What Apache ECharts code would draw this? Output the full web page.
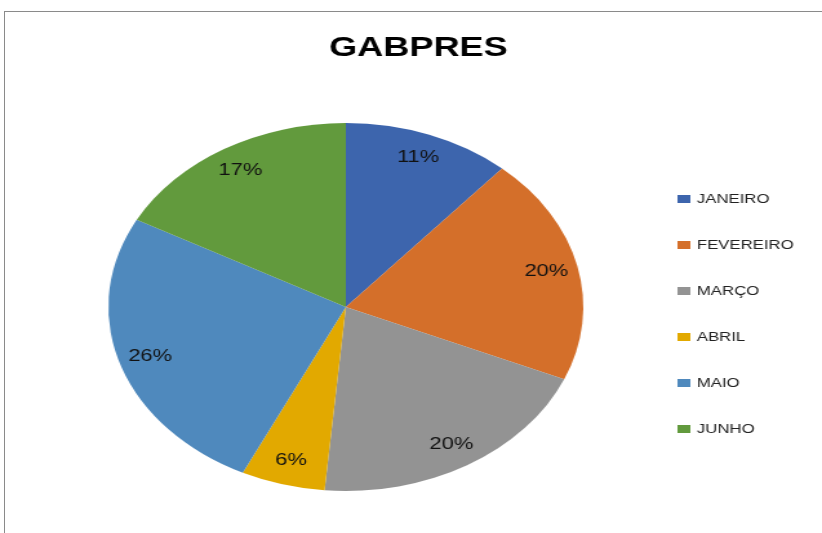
<!DOCTYPE html>
<html>
<head>
<meta charset="utf-8">
<script src="https://cdn.jsdelivr.net/npm/echarts@6/dist/echarts.min.js"></script>
<style>
  html, body { margin: 0; padding: 0; background: #fff; overflow: hidden; }
  #frame {
    position: absolute; left: 4px; top: 11px; width: 818px; height: 522px;
    border-left: 1px solid #8a8a8a; border-top: 1px solid #8a8a8a;
  }
  /* o gráfico original foi esticado na horizontal */
  #chart {
    position: absolute; left: 0; top: 0; width: 637px; height: 533px;
    transform: scaleX(1.2904); transform-origin: 0 0;
  }
</style>
</head>
<body>
<div id="frame"></div>
<div id="chart"></div>
<script>
const meses = ["JANEIRO", "FEVEREIRO", "MARÇO", "ABRIL", "MAIO", "JUNHO"];
const valores = [8, 14, 14, 4, 18, 12];
const cores = ["#3d65ad", "#d46f2a", "#939393", "#e2a900", "#4f89bd", "#629a3d"];

const fonte = "'Liberation Sans', Arial, sans-serif";
const R = 184;

const dados = meses.map((m, i) => ({ name: m, value: valores[i] }));

const myChart = echarts.init(document.getElementById("chart"));

myChart.setOption({
  animation: false,
  color: cores,
  title: {
    text: "GABPRES",
    left: 250,
    top: 29,
    textStyle: { fontFamily: fonte, fontSize: 28, fontWeight: "bold", color: "#000" },
  },
  legend: {
    orient: "vertical",
    left: 520,
    top: 187,
    data: meses,
    icon: "rect",
    itemWidth: 10,
    itemHeight: 8,
    itemGap: 32,
    textStyle: { fontFamily: fonte, fontSize: 13, lineHeight: 14, color: "#222" },
  },
  series: [
    {
      // fatias
      type: "pie",
      center: [268, 307],
      radius: [0, R],
      startAngle: 90,
      data: dados,
      label: { show: false },
      labelLine: { show: false },
      itemStyle: { borderWidth: 0 },
      silent: true,
    },
    {
      // anel transparente só para posicionar os rótulos perto da borda
      type: "pie",
      center: [268, 307],
      radius: [R * 0.7, R],
      startAngle: 90,
      percentPrecision: 0,
      data: dados,
      itemStyle: { color: "rgba(0,0,0,0)", borderWidth: 0 },
      label: {
        show: true,
        position: "inside",
        formatter: "{d}%",
        fontFamily: fonte,
        fontSize: 17,
        color: "#111",
      },
      labelLine: { show: false },
      silent: true,
    },
  ],
});
</script>
</body>
</html>
